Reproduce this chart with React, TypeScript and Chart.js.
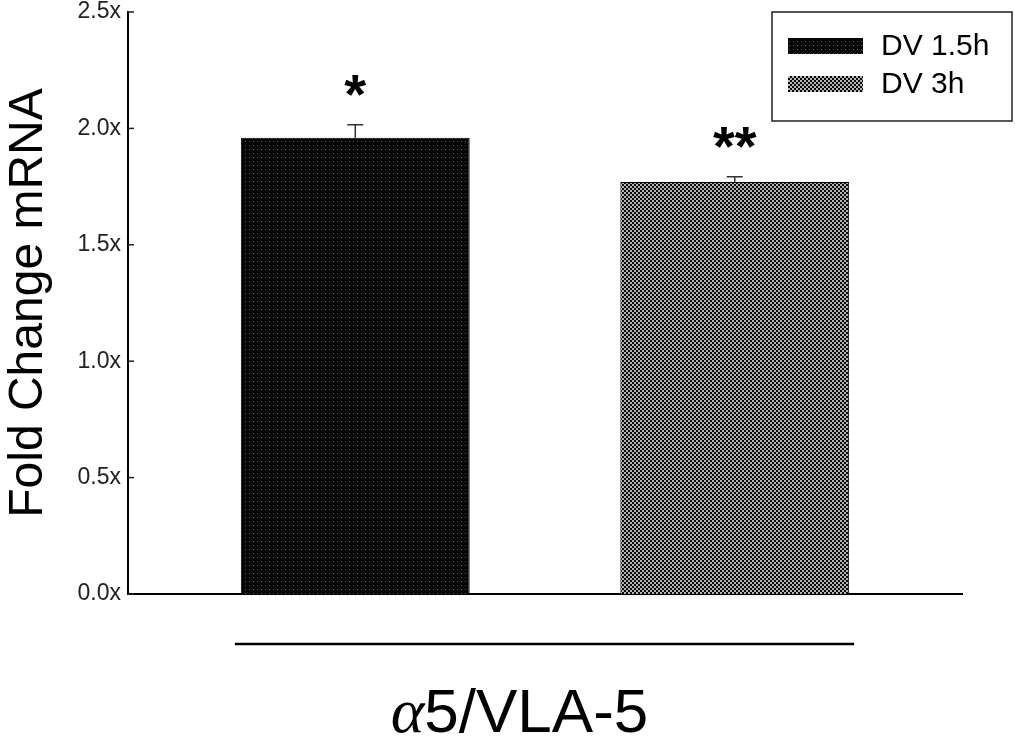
import React, { useEffect, useRef } from "react";
import { Chart, registerables } from "chart.js";

Chart.register(...registerables);

const categories = ["α5/VLA-5"];
const seriesLabels = ["DV 1.5h", "DV 3h"];
const valuesDV15 = [1.96];
const valuesDV3 = [1.77];
const errorsDV15 = [0.056];
const errorsDV3 = [0.022];
const signifDV15 = ["*"];
const signifDV3 = ["**"];
const yTickLabels = ["0.0x", "0.5x", "1.0x", "1.5x", "2.0x", "2.5x"];
const yAxisTitle = "Fold Change mRNA";

const SANS = "'Liberation Sans', Arial, sans-serif";

function makePattern(kind: "dark" | "checker"): CanvasPattern | string {
  const c = document.createElement("canvas");
  const ctx = c.getContext("2d");
  if (!ctx) return kind === "dark" ? "#111" : "#555";
  c.width = 4;
  c.height = 4;
  if (kind === "dark") {
    ctx.fillStyle = "#050505";
    ctx.fillRect(0, 0, 4, 4);
    ctx.fillStyle = "#5a5a5a";
    ctx.fillRect(1, 1, 1, 1);
  } else {
    ctx.fillStyle = "#0a0a0a";
    ctx.fillRect(0, 0, 4, 4);
    ctx.fillStyle = "#b4b4b4";
    ctx.fillRect(0, 0, 2, 2);
    ctx.fillRect(2, 2, 2, 2);
  }
  return ctx.createPattern(c, "repeat") || "#555";
}

const annotationPlugin = {
  id: "annotations",
  afterDatasetsDraw(chart: any) {
    const ctx = chart.ctx;
    const yScale = chart.scales.y;
    const area = chart.chartArea;
    ctx.save();

    // inner tick marks on the y axis
    ctx.strokeStyle = "#222";
    ctx.lineWidth = 1.5;
    yScale.ticks.forEach((t: any) => {
      const py = yScale.getPixelForValue(t.value);
      ctx.beginPath();
      ctx.moveTo(area.left, py);
      ctx.lineTo(area.left + 6, py);
      ctx.stroke();
    });

    // error bars and significance marks
    let minLeft = Infinity;
    let maxRight = -Infinity;
    chart.data.datasets.forEach((ds: any, i: number) => {
      const meta = chart.getDatasetMeta(i);
      meta.data.forEach((el: any, j: number) => {
        const v = ds.data[j];
        const e = ds.errors[j];
        const x = el.x;
        const top = yScale.getPixelForValue(v);
        const errTop = yScale.getPixelForValue(v + e);
        minLeft = Math.min(minLeft, x - el.width / 2);
        maxRight = Math.max(maxRight, x + el.width / 2);
        ctx.strokeStyle = "#333";
        ctx.lineWidth = 1.5;
        ctx.beginPath();
        ctx.moveTo(x, top);
        ctx.lineTo(x, errTop);
        ctx.moveTo(x - 8, errTop);
        ctx.lineTo(x + 8, errTop);
        ctx.stroke();
        ctx.fillStyle = "#000";
        ctx.font = `bold 56px ${SANS}`;
        ctx.textAlign = "center";
        ctx.textBaseline = "alphabetic";
        ctx.fillText(ds.signif[j], x, errTop - 12);
      });
    });

    // group line under axis
    const lineY = area.bottom + 50;
    const lineL = minLeft - 6;
    const lineR = maxRight + 5;
    ctx.strokeStyle = "#000";
    ctx.lineWidth = 2.5;
    ctx.beginPath();
    ctx.moveTo(lineL, lineY);
    ctx.lineTo(lineR, lineY);
    ctx.stroke();

    // category label
    const label = chart.data.labels[0] as string;
    const first = label.slice(0, 1);
    const rest = label.slice(1);
    ctx.fillStyle = "#000";
    ctx.textBaseline = "alphabetic";
    ctx.textAlign = "left";
    ctx.font = `italic 64px 'Liberation Serif', 'DejaVu Serif', serif`;
    const w1 = ctx.measureText(first).width;
    ctx.font = `62px ${SANS}`;
    const w2 = ctx.measureText(rest).width;
    const cx = (lineL + lineR) / 2 - 25;
    const startX = cx - (w1 + w2) / 2;
    ctx.font = `italic 64px 'Liberation Serif', 'DejaVu Serif', serif`;
    ctx.fillText(first, startX, area.bottom + 138);
    ctx.font = `62px ${SANS}`;
    ctx.fillText(rest, startX + w1, area.bottom + 138);

    // legend box
    const bx = 772;
    const by = 12;
    const bw = 240;
    const bh = 109;
    ctx.fillStyle = "#fff";
    ctx.fillRect(bx, by, bw, bh);
    ctx.strokeStyle = "#222";
    ctx.lineWidth = 1.5;
    ctx.strokeRect(bx, by, bw, bh);
    chart.data.datasets.forEach((ds: any, i: number) => {
      const sy = 38 + i * 38;
      ctx.fillStyle = ds.backgroundColor;
      ctx.fillRect(788, sy, 75, 16);
      ctx.fillStyle = "#000";
      ctx.font = `30px ${SANS}`;
      ctx.textAlign = "left";
      ctx.textBaseline = "middle";
      ctx.fillText(ds.label, 881, sy + 9);
    });

    ctx.restore();
  },
};

export default function App() {
  const canvasRef = useRef<HTMLCanvasElement | null>(null);

  useEffect(() => {
    document.body.style.margin = "0";
    const canvas = canvasRef.current;
    if (!canvas) return;
    const darkFill = makePattern("dark");
    const checkerFill = makePattern("checker");

    const chart = new Chart(canvas, {
      type: "bar",
      data: {
        labels: categories,
        datasets: [
          {
            label: seriesLabels[0],
            data: valuesDV15,
            backgroundColor: darkFill as any,
            borderColor: "#000",
            borderWidth: 1,
            errors: errorsDV15,
            signif: signifDV15,
          } as any,
          {
            label: seriesLabels[1],
            data: valuesDV3,
            backgroundColor: checkerFill as any,
            borderColor: "#000",
            borderWidth: 1,
            errors: errorsDV3,
            signif: signifDV3,
          } as any,
        ],
      },
      options: {
        animation: false,
        responsive: false,
        maintainAspectRatio: false,
        layout: { padding: { top: 12, right: 53, left: 0, bottom: 0 } },
        datasets: {
          bar: { categoryPercentage: 0.91, barPercentage: 0.603 },
        },
        plugins: {
          legend: { display: false },
          tooltip: { enabled: false },
        },
        scales: {
          x: {
            grid: { display: false },
            border: { display: true, color: "#000", width: 2 },
            ticks: { display: false },
            afterFit(scale: any) {
              scale.height = 146;
            },
          },
          y: {
            min: 0,
            max: 2.5,
            grid: { display: false, drawTicks: false },
            border: { display: true, color: "#000", width: 2 },
            ticks: {
              stepSize: 0.5,
              padding: 7,
              color: "#222",
              font: { family: SANS, size: 23 },
              callback: (_v: any, i: number) => yTickLabels[i],
            },
            title: {
              display: true,
              text: yAxisTitle,
              color: "#000",
              font: { family: SANS, size: 48 },
              padding: 0,
            },
            afterFit(scale: any) {
              scale.width = 128;
              scale.paddingTop = 0;
              scale.paddingBottom = 0;
            },
          },
        },
      } as any,
      plugins: [annotationPlugin],
    });
    return () => chart.destroy();
  }, []);

  return (
    <div style={{ width: 1015, height: 740, background: "#fff" }}>
      <canvas ref={canvasRef} width={1015} height={740} style={{ display: "block" }} />
    </div>
  );
}
